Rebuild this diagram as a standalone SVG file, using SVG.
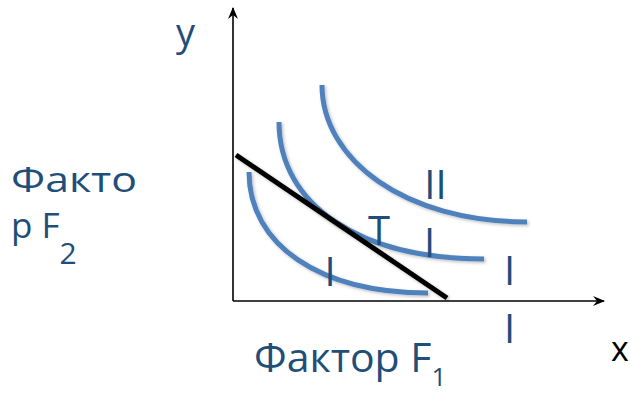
<svg xmlns="http://www.w3.org/2000/svg" width="631" height="394" viewBox="0 0 631 394">
<defs>
<style>
.lbl{font-family:"Open Sans","Noto Sans","Liberation Sans",sans-serif;fill:#1F4E79;}
.rn{font-family:"Open Sans","Noto Sans","Liberation Sans",sans-serif;fill:#1F4E79;font-size:40px;text-anchor:middle;}
.curve{fill:none;stroke:#4F81BD;stroke-width:5;filter:url(#sh);}
.axis{fill:none;stroke:#000;stroke-width:1.6;}
</style>
<filter id="sh" x="-10%" y="-10%" width="130%" height="130%">
<feDropShadow dx="1.5" dy="1.5" stdDeviation="1.5" flood-color="#000" flood-opacity="0.25"/>
</filter>
<marker id="arr" viewBox="0 0 12 10" refX="11" refY="5" markerWidth="12" markerHeight="10" markerUnits="userSpaceOnUse" orient="auto">
<path d="M0,0 L12,5 L0,10 L4,5 Z" fill="#000"/>
</marker>
</defs>
<g id="connectors">
<line class="axis" x1="233" y1="301" x2="233" y2="8" marker-end="url(#arr)"/>
<line class="axis" x1="233" y1="301" x2="604" y2="301" marker-end="url(#arr)"/>
</g>
<g id="curve1"><path class="curve" d="M249,172 C249,245 320,293 428,293"/></g>
<g id="curve2"><path class="curve" d="M279,122 C279,205 360,259 484,259"/></g>
<g id="curve3"><path class="curve" d="M322,85 C322,160 405,222 527,222"/></g>
<g id="budget"><line x1="236" y1="155" x2="447" y2="298" stroke="#000" stroke-width="5" filter="url(#sh)"/></g>
<g id="labels">
<text class="rn" x="435.5" y="199">II</text>
<text class="rn" x="379" y="245">T</text>
<text class="rn" x="429.5" y="257">I</text>
<text class="rn" x="330" y="286">I</text>
<text class="rn" x="509.5" y="285">I</text>
<text class="rn" x="509.5" y="343">I</text>
</g>
<g id="axis-y-label"><text class="lbl" x="176" y="46" font-size="38">y</text></g>
<g id="axis-x-label"><text x="611" y="361" font-family="'Open Sans','Liberation Sans',sans-serif" font-size="34" fill="#000">x</text></g>
<g id="factor2">
<text class="lbl" x="11" y="192" font-size="35" textLength="126" lengthAdjust="spacingAndGlyphs">Факто</text>
<text class="lbl" x="11" y="238" font-size="35">р F<tspan font-size="30" dy="26">2</tspan></text>
</g>
<g id="factor1">
<text class="lbl" x="254" y="372" font-size="41">Фактор F<tspan font-size="26" dy="14">1</tspan></text>
</g>
</svg>
